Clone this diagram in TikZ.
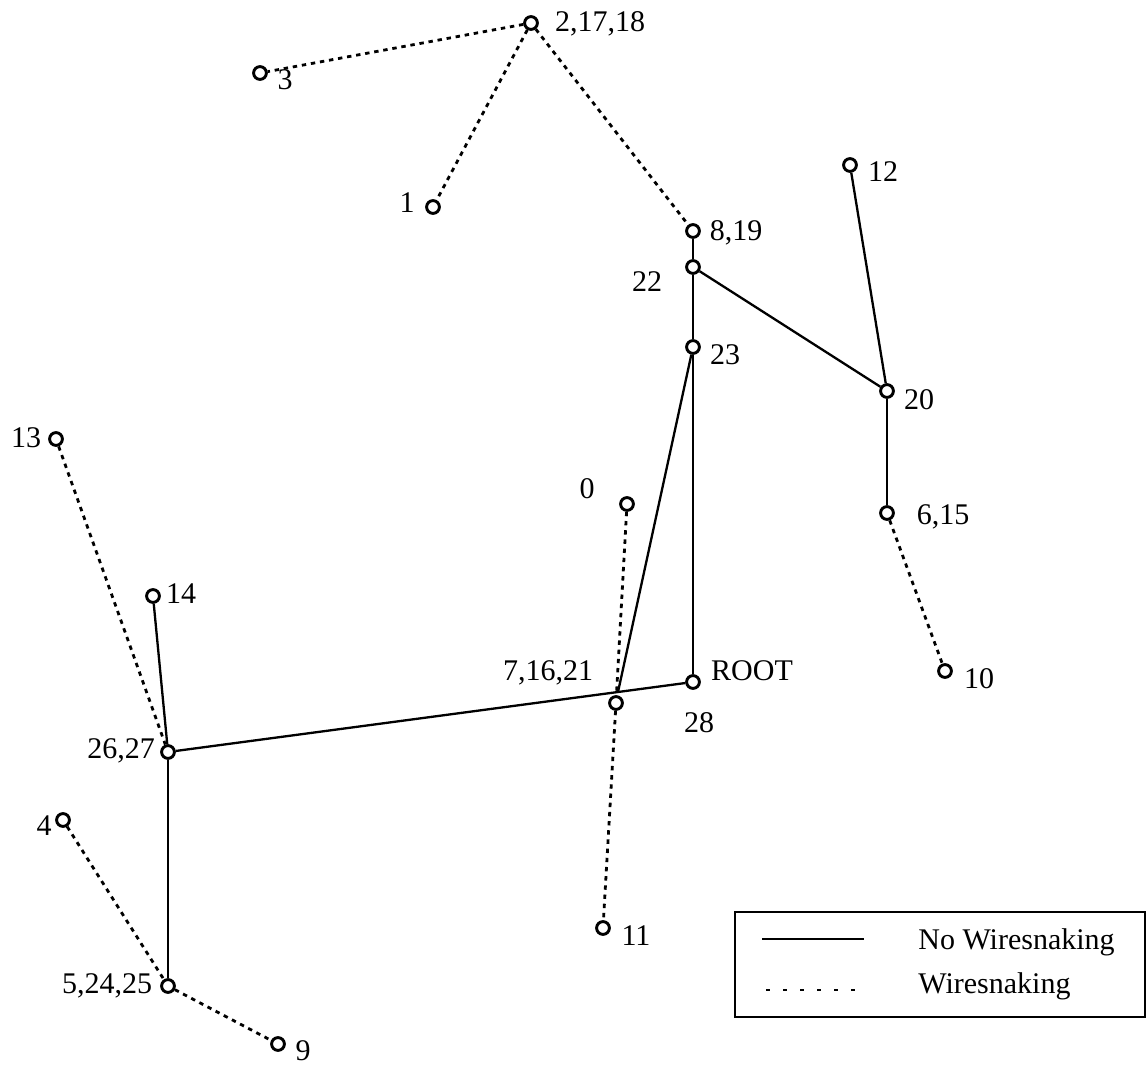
\documentclass[tikz,border=0pt]{standalone}
\usepackage{fontspec}
\setmainfont{Liberation Serif}
\begin{document}
\begin{tikzpicture}[x=0.5pt,y=-0.5pt,
  pt/.style={circle,draw,line width=1.45pt,minimum size=6.4pt,inner sep=0pt},
  lab/.style={anchor=base,inner sep=0pt,font=\fontsize{15}{18}\selectfont},
  leglab/.style={anchor=base west,inner sep=0pt,font=\fontsize{15}{18}\selectfont},
  wire/.style={line width=1.15pt},
  snake/.style={line width=1.4pt,dash pattern=on 2.2pt off 2.4pt}]
\useasboundingbox (0,0) rectangle (1146,1065);
% points
\node[pt] (n2) at (531,23) {};
\node[pt] (n3) at (260,73) {};
\node[pt] (n1) at (433,207) {};
\node[pt] (n8) at (693,231) {};
\node[pt] (n22) at (693,267) {};
\node[pt] (n23) at (693,347) {};
\node[pt] (n20) at (887,391) {};
\node[pt] (n12) at (850,165) {};
\node[pt] (n6) at (887,513) {};
\node[pt] (n10) at (945,671) {};
\node[pt] (n0) at (627,504) {};
\node[pt] (n7) at (616,703) {};
\node[pt] (root) at (693,682) {};
\node[pt] (n11) at (603,928) {};
\node[pt] (n13) at (56,439) {};
\node[pt] (n14) at (153,596) {};
\node[pt] (n26) at (168,752) {};
\node[pt] (n4) at (63,820) {};
\node[pt] (n5) at (168,986) {};
\node[pt] (n9) at (278,1044) {};
\coordinate (j7) at (618,692);
% labels
\node[lab] (l2) at (600,32) {2,17,18};
\node[lab] (l3) at (285,90) {3};
\node[lab] (l1) at (407,213) {1};
\node[lab] (l8) at (736,240) {8,19};
\node[lab] (l22) at (647,291) {22};
\node[lab] (l23) at (725,364) {23};
\node[lab] (l20) at (919,409) {20};
\node[lab] (l12) at (883,182) {12};
\node[lab] (l6) at (943,524) {6,15};
\node[lab] (l10) at (979,688) {10};
\node[lab] (l0) at (587,498) {0};
\node[lab] (l7) at (548,680) {7,16,21};
\node[lab] (lroot) at (752,680) {ROOT};
\node[lab] (l28) at (699,732) {28};
\node[lab] (l11) at (636,945) {11};
\node[lab] (l13) at (26,447) {13};
\node[lab] (l14) at (181,603) {14};
\node[lab] (l26) at (121,758) {26,27};
\node[lab] (l4) at (44,835) {4};
\node[lab] (l5) at (107,993) {5,24,25};
\node[lab] (l9) at (303,1060) {9};
% solid connectors
\draw[wire] (n8) -- (n22);
\draw[wire] (n22) -- (n23);
\draw[wire] (n23) -- (root);
\draw[wire] (n22) -- (n20);
\draw[wire] (n20) -- (n12);
\draw[wire] (n20) -- (n6);
\draw[wire] (n23) -- (j7);
\draw[wire] (root) -- (n26);
\draw[wire] (n26) -- (n14);
\draw[wire] (n26) -- (n5);
% dashed connectors
\draw[snake] (n2) -- (n3);
\draw[snake] (n2) -- (n1);
\draw[snake] (n2) -- (n8);
\draw[snake] (n6) -- (n10);
\draw[snake] (n0) -- (n7);
\draw[snake] (n7) -- (n11);
\draw[snake] (n13) -- (n26);
\draw[snake] (n4) -- (n5);
\draw[snake] (n5) -- (n9);
% legend
\draw[line width=1.4pt] (735,912) rectangle (1145,1017);
\draw[line width=1.4pt] (762,939) -- (864,939);
\draw[line width=1.1pt,dash pattern=on 2pt off 6.5pt] (766,990) -- (862,990);
\node[leglab] (legA) at (918,949) {No Wiresnaking};
\node[leglab] (legB) at (918,993) {Wiresnaking};
\end{tikzpicture}
\end{document}
